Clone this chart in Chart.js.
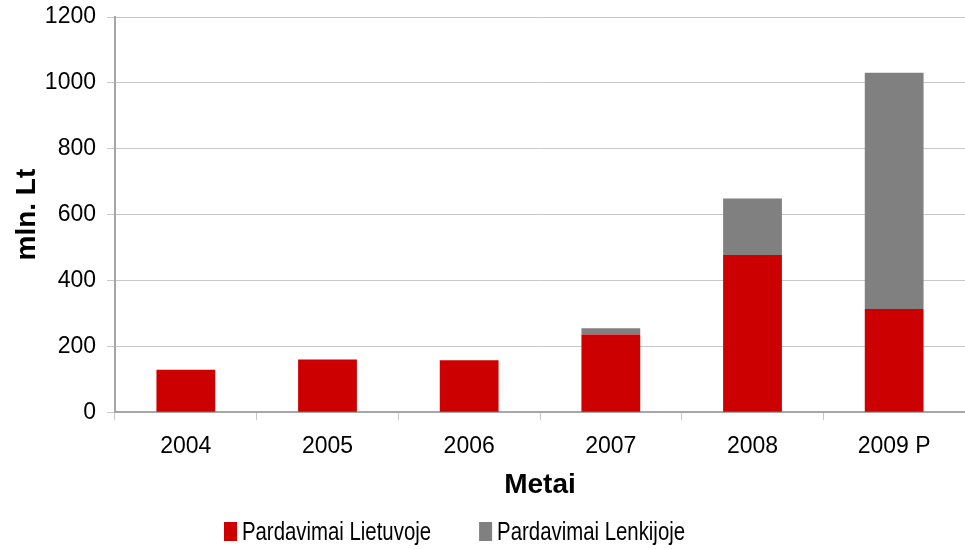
<!DOCTYPE html>
<html>
<head>
<meta charset="utf-8">
<script src="https://cdn.jsdelivr.net/npm/chart.js@4.4.1/dist/chart.umd.min.js"></script>
<style>
  html, body { margin: 0; padding: 0; background: #fff; }
  #wrap { width: 965px; height: 549px; position: relative; }
  #legend {
    position: absolute; left: 224px; top: 519px;
    display: flex; align-items: center;
    font-family: "Liberation Sans", Arial, sans-serif; font-size: 25px; line-height: 25px;
    color: #000; white-space: nowrap;
    transform: scaleX(0.815); transform-origin: left center;
  }
  #legend .item { display: flex; align-items: center; margin-right: 59px; }
  #legend .box { width: 16px; height: 19px; margin-right: 6px; }
</style>
</head>
<body>
<div id="wrap"><canvas id="salesChart"></canvas><div id="legend"></div></div>
<script>
const years = ['2004', '2005', '2006', '2007', '2008', '2009 P'];
const salesLithuania = [129, 160, 158, 236, 477, 313];
const salesPoland = [0, 0, 0, 19, 172, 718];
const yTicks = [0, 200, 400, 600, 800, 1000, 1200];
const seriesNames = ['Pardavimai Lietuvoje', 'Pardavimai Lenkijoje'];
const seriesColors = ['#cc0000', '#808080'];

const fontFamily = '"Liberation Sans", Arial, sans-serif';

const ctx = document.getElementById('salesChart').getContext('2d');
const chart = new Chart(ctx, {
    type: 'bar',
    data: {
        labels: years,
        datasets: [{
            label: seriesNames[0],
            data: salesLithuania,
            backgroundColor: seriesColors[0],
            categoryPercentage: 1,
            barPercentage: 0.415
        }, {
            label: seriesNames[1],
            data: salesPoland,
            backgroundColor: seriesColors[1],
            categoryPercentage: 1,
            barPercentage: 0.415
        }]
    },
    options: {
        responsive: true,
        maintainAspectRatio: false,
        animation: false,
        layout: { padding: { top: 17, right: 0, left: 0, bottom: 52 } },
        plugins: {
            legend: { display: false },
            tooltip: { enabled: false }
        },
        scales: {
            x: {
                stacked: true,
                grid: {
                    drawOnChartArea: false,
                    tickLength: 8,
                    color: '#c8c8c8'
                },
                border: { color: '#a6a6a6', width: 2 },
                ticks: {
                    color: '#000',
                    font: { family: fontFamily, size: 23, lineHeight: 1.0 },
                    padding: 15
                },
                title: {
                    display: true,
                    text: 'Metai',
                    color: '#000',
                    font: { family: fontFamily, size: 28, weight: 'bold', lineHeight: 0.85 },
                    padding: { top: 0, bottom: 0 }
                }
            },
            y: {
                stacked: true,
                min: 0,
                max: 1200,
                afterBuildTicks: axis => { axis.ticks = yTicks.map(v => ({ value: v })); },
                afterFit: axis => {
                    axis.width = 115;
                    axis.paddingTop = 0;
                    axis.paddingBottom = 0;
                },
                grid: {
                    color: '#c8c8c8',
                    tickLength: 8
                },
                border: { color: '#a6a6a6', width: 2 },
                ticks: {
                    color: '#000',
                    font: { family: fontFamily, size: 23 },
                    padding: 11,
                    callback: v => String(v)
                },
                title: {
                    display: true,
                    text: 'mln. Lt',
                    color: '#000',
                    font: { family: fontFamily, size: 28, weight: 'bold' },
                    padding: { top: 10, bottom: 0 }
                }
            }
        }
    }
});

// HTML legend built from the series names and colours
const legendEl = document.getElementById('legend');
seriesNames.forEach((name, i) => {
    const item = document.createElement('div');
    item.className = 'item';
    const box = document.createElement('span');
    box.className = 'box';
    box.style.background = seriesColors[i];
    const label = document.createElement('span');
    label.textContent = name;
    item.appendChild(box);
    item.appendChild(label);
    legendEl.appendChild(item);
});
</script>
</body>
</html>
